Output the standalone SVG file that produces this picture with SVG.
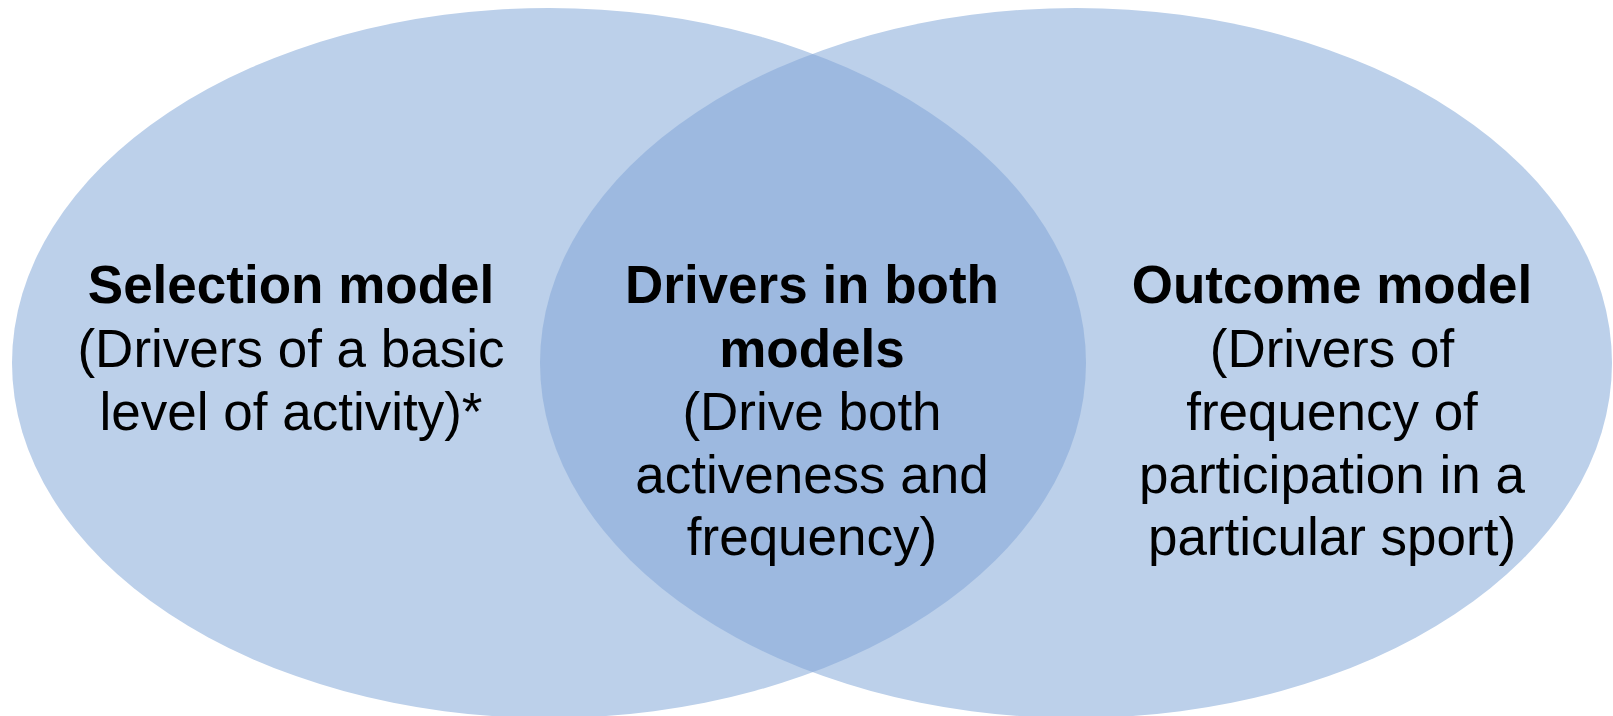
<svg xmlns="http://www.w3.org/2000/svg" width="1613" height="716" viewBox="0 0 1613 716">
  <style>
    .set { fill: #BCD0EA; }
    .both { fill: #9DB9E0; }
    text { font-family: "Liberation Sans", Arial, sans-serif; font-size: 53px; fill: #000; text-anchor: middle; }
    .title { font-weight: bold; }
  </style>
  <defs>
    <clipPath id="clip-left">
      <ellipse cx="549" cy="363" rx="537" ry="355"/>
    </clipPath>
  </defs>

  <!-- Left set -->
  <g id="selection-model">
    <ellipse class="set" cx="549" cy="363" rx="537" ry="355"/>
    <text x="291" y="303" class="title">Selection model</text>
    <text x="291" y="367">(Drivers of a basic</text>
    <text x="291" y="430">level of activity)*</text>
  </g>

  <!-- Right set -->
  <g id="outcome-model">
    <ellipse class="set" cx="1076" cy="363" rx="536" ry="355"/>
    <text x="1332" y="303" class="title">Outcome model</text>
    <text x="1332" y="367">(Drivers of</text>
    <text x="1332" y="430">frequency of</text>
    <text x="1332" y="493">participation in a</text>
    <text x="1332" y="555">particular sport)</text>
  </g>

  <!-- Overlap of the two sets -->
  <g id="both-models">
    <ellipse class="both" cx="1076" cy="363" rx="536" ry="355" clip-path="url(#clip-left)"/>
    <text x="812" y="303" class="title">Drivers in both</text>
    <text x="812" y="367" class="title">models</text>
    <text x="812" y="430">(Drive both</text>
    <text x="812" y="493">activeness and</text>
    <text x="812" y="555">frequency)</text>
  </g>

  <g id="connectors"/>
</svg>
